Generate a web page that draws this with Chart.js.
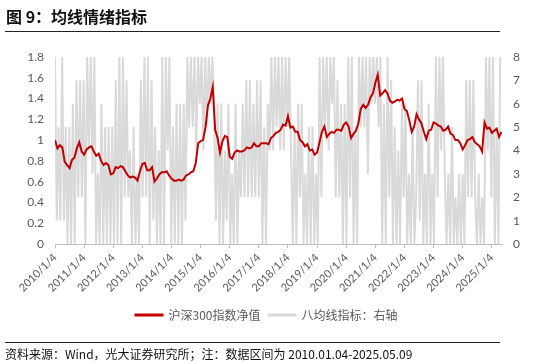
<!DOCTYPE html>
<html>
<head>
<meta charset="utf-8">
<script src="https://cdn.jsdelivr.net/npm/chart.js@4.4.1/dist/chart.umd.min.js"></script>
<style>
  body { margin: 0; background: #fff; }
  #wrap { position: relative; width: 533px; height: 364px; font-family: 'Noto Sans CJK SC', sans-serif; }
  #c { position: absolute; left: 0; top: 0; }
  #title { position: absolute; left: 6px; top: 4px; font-size: 16px; font-weight: bold; color: #111; }
  .rule { position: absolute; left: 5px; width: 495px; height: 1px; background: #222; }
  #note { position: absolute; left: 5px; top: 345px; font-size: 12px; color: #111; white-space: nowrap; }
</style>
</head>
<body>
<div id="wrap">
  <canvas id="c" width="533" height="364"></canvas>
  <div id="title">图 9：均线情绪指标</div>
  <div class="rule" style="top:31px"></div>
  <div class="rule" style="top:342px"></div>
  <div id="note">资料来源：Wind，光大证券研究所；注：数据区间为 2010.01.04-2025.05.09</div>
</div>
<script>
// x axis tick labels (one per year, axis unit = years since 2010/1/4)
const tickLabels = ['2010/1/4', '2011/1/4', '2012/1/4', '2013/1/4', '2014/1/4', '2015/1/4', '2016/1/4', '2017/1/4',
  '2018/1/4', '2019/1/4', '2020/1/4', '2021/1/4', '2022/1/4', '2023/1/4', '2024/1/4', '2025/1/4'];

// 沪深300指数净值, monthly, 2010/01 .. 2025/05
const csi300 = [
  1.00, 0.92, 0.95, 0.93, 0.79, 0.76, 0.73, 0.81, 0.83, 0.92, 0.98, 0.89,
  0.86, 0.91, 0.93, 0.94, 0.89, 0.85, 0.87, 0.80, 0.76, 0.78, 0.76, 0.67,
  0.68, 0.74, 0.73, 0.75, 0.74, 0.70, 0.66, 0.64, 0.65, 0.64, 0.61, 0.70,
  0.77, 0.78, 0.71, 0.71, 0.74, 0.60, 0.63, 0.67, 0.69, 0.69, 0.70, 0.66,
  0.63, 0.61, 0.61, 0.62, 0.61, 0.62, 0.66, 0.67, 0.69, 0.70, 0.78, 0.97,
  0.99, 1.00, 1.12, 1.33, 1.40, 1.51, 1.10, 1.02, 0.88, 0.99, 1.04, 1.03,
  0.84, 0.82, 0.88, 0.90, 0.89, 0.89, 0.90, 0.93, 0.92, 0.93, 0.97, 0.94,
  0.94, 0.97, 0.97, 0.97, 0.96, 1.02, 1.04, 1.07, 1.08, 1.10, 1.15, 1.14,
  1.23, 1.12, 1.13, 1.08, 1.08, 1.00, 0.98, 0.94, 0.96, 0.90, 0.91, 0.86,
  0.88, 0.98, 1.08, 1.13, 1.03, 1.06, 1.08, 1.07, 1.10, 1.10, 1.09, 1.15,
  1.17, 1.13, 1.02, 1.06, 1.09, 1.16, 1.30, 1.34, 1.31, 1.34, 1.41, 1.45,
  1.55, 1.63, 1.43, 1.45, 1.48, 1.45, 1.38, 1.36, 1.37, 1.39, 1.38, 1.40,
  1.30, 1.28, 1.19, 1.08, 1.13, 1.25, 1.20, 1.16, 1.08, 1.01, 1.09, 1.10,
  1.17, 1.16, 1.14, 1.13, 1.09, 1.10, 1.13, 1.06, 1.05, 1.00, 1.00, 0.97,
  0.91, 0.95, 1.00, 1.01, 1.03, 0.98, 0.96, 0.94, 0.89, 1.17, 1.11, 1.12,
  1.07, 1.09, 1.11, 1.03, 1.08
];

// 八均线指标 (0-8), sampled every ~22 days
const eightMA = [
  8, 1, 5, 1, 8, 1, 5, 0, 5, 0, 6, 0, 7, 2, 7, 2,
  7, 0, 8, 4, 8, 3, 8, 0, 3, 0, 6, 0, 5, 0, 5, 0,
  5, 0, 7, 0, 8, 0, 8, 2, 7, 2, 4, 0, 5, 0, 3, 0,
  7, 2, 8, 2, 8, 0, 7, 1, 5, 0, 4, 0, 8, 0, 8, 4,
  8, 0, 5, 0, 6, 0, 6, 0, 6, 1, 8, 5, 8, 5, 8, 4,
  8, 6, 8, 4, 8, 5, 8, 6, 8, 6, 1, 6, 0, 6, 0, 4,
  1, 6, 0, 3, 0, 6, 0, 4, 2, 6, 2, 7, 2, 7, 2, 6,
  2, 7, 2, 7, 0, 5, 0, 6, 4, 8, 4, 8, 5, 8, 4, 8,
  4, 8, 5, 8, 4, 0, 5, 0, 6, 2, 6, 0, 3, 0, 5, 0,
  5, 0, 3, 0, 8, 2, 8, 5, 8, 4, 8, 6, 8, 2, 7, 2,
  6, 0, 6, 0, 8, 2, 8, 0, 5, 0, 8, 5, 8, 5, 8, 3,
  8, 6, 8, 6, 8, 5, 8, 0, 6, 0, 8, 2, 7, 0, 5, 0,
  4, 0, 6, 2, 6, 0, 3, 0, 5, 0, 2, 7, 1, 7, 0, 3,
  0, 6, 0, 3, 0, 8, 2, 8, 4, 8, 3, 0, 3, 0, 5, 0,
  2, 0, 3, 0, 3, 0, 7, 2, 7, 2, 7, 2, 0, 3, 0, 2,
  0, 8, 4, 8, 2, 8, 0, 5, 0, 8
];

const xMax = 15.35;  // 2025/05/09
const redPts = csi300.map((v, i) => ({ x: Math.min(i / 12, xMax), y: v }));
const greyPts = eightMA.map((v, i) => ({ x: i * xMax / eightMA.length, y: v }));

const fontNum = "Lato, 'Noto Sans CJK SC', sans-serif";
const tickColor = '#595959';

new Chart(document.getElementById('c'), {
  type: 'line',
  data: {
    datasets: [
      { label: '沪深300指数净值', data: redPts, yAxisID: 'y', borderColor: '#c00000', backgroundColor: '#c00000',
        borderWidth: 2, pointRadius: 0, tension: 0 },
      { label: '八均线指标：右轴', data: greyPts, yAxisID: 'y1', borderColor: '#d9d9d9', backgroundColor: '#d9d9d9',
        borderWidth: 2, pointRadius: 0, tension: 0 }
    ]
  },
  options: {
    responsive: false,
    animation: false,
    layout: { padding: { top: 57, left: 0, right: 0, bottom: 33 } },
    plugins: {
      legend: {
        position: 'bottom',
        labels: { boxWidth: 27, boxHeight: 1, padding: 8, color: tickColor,
          font: { family: "'Noto Sans CJK SC', sans-serif", size: 12 } }
      },
      tooltip: { enabled: false }
    },
    scales: {
      x: {
        type: 'linear', min: 0, max: xMax,
        afterBuildTicks: s => { s.ticks = tickLabels.map((_, i) => ({ value: i })); },
        afterFit: s => { s.height = 57; },
        ticks: { autoSkip: false, maxRotation: 45, minRotation: 45, color: tickColor,
          font: { family: fontNum, size: 11 }, callback: (v, i) => tickLabels[i] },
        grid: { drawOnChartArea: false, drawTicks: true, tickLength: 4, color: '#bfbfbf' },
        border: { color: '#bfbfbf' }
      },
      y: {
        position: 'left', min: 0, max: 1.8,
        afterFit: s => { s.width = 55; },
        ticks: { stepSize: 0.2, color: tickColor, font: { family: fontNum, size: 12 },
          callback: v => String(Number(v.toFixed(1))) },
        grid: { display: false },
        border: { display: false }
      },
      y1: {
        position: 'right', min: 0, max: 8,
        afterFit: s => { s.width = 31; },
        ticks: { stepSize: 1, color: tickColor, font: { family: fontNum, size: 12 } },
        grid: { display: false },
        border: { display: false }
      }
    }
  }
});
</script>
</body>
</html>
